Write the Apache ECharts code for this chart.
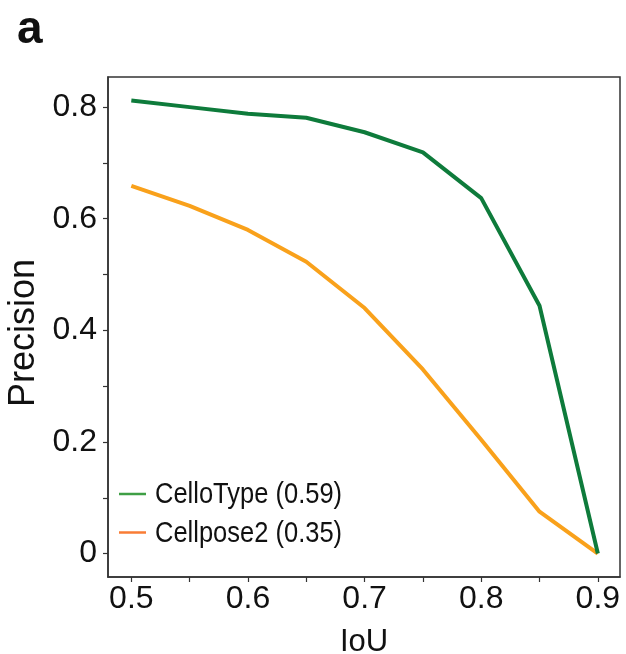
<!DOCTYPE html>
<html>
<head>
<meta charset="utf-8">
<script src="https://cdn.jsdelivr.net/npm/echarts@6/dist/echarts.min.js"></script>
<style>
html,body{margin:0;padding:0;background:#fff;}
#c{width:626px;height:654px;}
</style>
</head>
<body>
<div id="c"></div>
<script>
const iou = [0.5, 0.55, 0.6, 0.65, 0.7, 0.75, 0.8, 0.85, 0.9];
const celloType = [0.812, 0.800, 0.788, 0.781, 0.755, 0.719, 0.637, 0.444, 0.0];
const cellpose2 = [0.659, 0.623, 0.580, 0.523, 0.440, 0.330, 0.204, 0.075, 0.0];
const seriesNames = ['CelloType (0.59)', 'Cellpose2 (0.35)'];
const yTicks = [0, 0.1, 0.2, 0.3, 0.4, 0.5, 0.6, 0.7, 0.8];
const yLabels = [0, 0.2, 0.4, 0.6, 0.8];
const xTicks = [0.5, 0.55, 0.6, 0.65, 0.7, 0.75, 0.8, 0.85, 0.9];
const xLabels = [0.5, 0.6, 0.7, 0.8, 0.9];

const font = 'Arial, "Liberation Sans", Helvetica, sans-serif';
const axisColor = '#333';
const legendColors = ['#3f9f45', '#f97c35'];

const legendGraphics = [];
seriesNames.forEach((name, i) => {
  const cy = 494 + i * 38.5;
  legendGraphics.push({
    type: 'line', shape: {x1: 119, y1: cy, x2: 146, y2: cy},
    style: {stroke: legendColors[i], lineWidth: 2.5}, silent: true
  });
  legendGraphics.push({
    type: 'text', x: 155, y: cy + 1, scaleX: 0.85, scaleY: 1,
    style: {text: name, fill: '#111', font: '30px ' + font, textVerticalAlign: 'middle', verticalAlign: 'middle'},
    silent: true
  });
});

const chart = echarts.init(document.getElementById('c'), null, {renderer: 'canvas'});
chart.setOption({
  animation: false,
  backgroundColor: '#fff',
  title: {
    text: 'a', left: 12, top: 2,
    textStyle: {fontFamily: font, fontWeight: 'bold', fontSize: 46, color: '#111'}
  },
  grid: {left: 108, right: 6, top: 77, bottom: 77, show: true, borderColor: axisColor, borderWidth: 1.5,
    containLabel: false, outerBoundsMode: 'none'},
  legend: {show: false},
  graphic: legendGraphics,
  xAxis: {
    type: 'value', min: 0.48, max: 0.919,
    name: 'IoU', nameLocation: 'middle', nameGap: 50,
    nameTextStyle: {fontFamily: font, fontSize: 31, color: '#111'},
    axisLine: {show: true, onZero: false, lineStyle: {color: axisColor, width: 1.5}},
    axisTick: {show: true, length: 5, inside: false, customValues: xTicks, lineStyle: {color: axisColor, width: 1.2}},
    axisLabel: {show: true, margin: 6, customValues: xLabels, fontFamily: font, fontSize: 32, color: '#111',
      formatter: v => String(+v.toFixed(2))},
    splitLine: {show: false}
  },
  yAxis: {
    type: 'value', min: -0.042, max: 0.854,
    name: 'Precision', nameLocation: 'middle', nameGap: 65,
    nameTextStyle: {fontFamily: font, fontSize: 36, color: '#111', padding: [0, 12, 0, 0]},
    axisLine: {show: true, onZero: false, lineStyle: {color: axisColor, width: 1.5}},
    axisTick: {show: true, length: 5, inside: false, customValues: yTicks, lineStyle: {color: axisColor, width: 1.2}},
    axisLabel: {show: true, margin: 11, customValues: yLabels, fontFamily: font, fontSize: 32, color: '#111',
      formatter: v => (Math.abs(v) < 1e-9 ? '0' : String(+v.toFixed(2)))},
    splitLine: {show: false}
  },
  series: [
    {
      name: seriesNames[0], type: 'line', showSymbol: false, symbol: 'none',
      data: iou.map((x, i) => [x, celloType[i]]),
      lineStyle: {color: '#0e7b3b', width: 4}, itemStyle: {color: '#0e7b3b'}, z: 3
    },
    {
      name: seriesNames[1], type: 'line', showSymbol: false, symbol: 'none',
      data: iou.map((x, i) => [x, cellpose2[i]]),
      lineStyle: {color: '#f9a11b', width: 4}, itemStyle: {color: '#f9a11b'}, z: 2
    }
  ]
});
</script>
</body>
</html>
